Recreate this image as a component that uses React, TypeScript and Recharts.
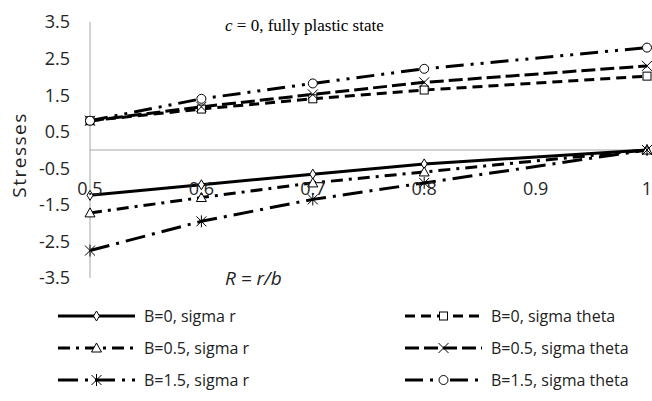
import React from "react";
import {
  LineChart,
  Line,
  XAxis,
  YAxis,
  ReferenceLine,
} from "recharts";

// radius ratio R = r/b
const xValues = [0.5, 0.6, 0.7, 0.8, 1];
const xTicks = [0.5, 0.6, 0.7, 0.8, 0.9, 1];
const yTicks = [3.5, 2.5, 1.5, 0.5, -0.5, -1.5, -2.5, -3.5];

const b0SigmaR = [-1.24, -0.95, -0.66, -0.38, 0];
const b0SigmaTheta = [0.8, 1.12, 1.4, 1.64, 2.02];
const b05SigmaR = [-1.72, -1.3, -0.9, -0.6, 0];
const b05SigmaTheta = [0.8, 1.18, 1.52, 1.85, 2.3];
const b15SigmaR = [-2.75, -1.95, -1.35, -0.9, 0];
const b15SigmaTheta = [0.8, 1.4, 1.82, 2.22, 2.8];

const seriesNames = [
  "B=0, sigma r",
  "B=0, sigma theta",
  "B=0.5, sigma r",
  "B=0.5, sigma theta",
  "B=1.5, sigma r",
  "B=1.5, sigma theta",
];

const chartData = xValues.map((r, i) => ({
  r,
  b0r: b0SigmaR[i],
  b0t: b0SigmaTheta[i],
  b05r: b05SigmaR[i],
  b05t: b05SigmaTheta[i],
  b15r: b15SigmaR[i],
  b15t: b15SigmaTheta[i],
}));

type MarkerKind = "diamond" | "square" | "triangle" | "x" | "star" | "circle";

function Marker({ kind, cx, cy }: { kind: MarkerKind; cx: number; cy: number }) {
  const st = { fill: "#fff", stroke: "#000", strokeWidth: 1 };
  switch (kind) {
    case "diamond":
      return <path d={`M${cx},${cy - 5}L${cx + 3},${cy}L${cx},${cy + 5}L${cx - 3},${cy}Z`} {...st} />;
    case "square":
      return <rect x={cx - 4} y={cy - 4} width={8} height={8} {...st} />;
    case "triangle":
      return <path d={`M${cx},${cy - 5}L${cx + 5},${cy + 4}L${cx - 5},${cy + 4}Z`} {...st} />;
    case "x":
      return (
        <path d={`M${cx - 5},${cy - 5}L${cx + 5},${cy + 5}M${cx + 5},${cy - 5}L${cx - 5},${cy + 5}`} stroke="#000" strokeWidth={1} />
      );
    case "star":
      return (
        <path
          d={`M${cx - 5},${cy - 5}L${cx + 5},${cy + 5}M${cx + 5},${cy - 5}L${cx - 5},${cy + 5}M${cx},${cy - 6}L${cx},${cy + 6}`}
          stroke="#000"
          strokeWidth={1}
        />
      );
    default:
      return <circle cx={cx} cy={cy} r={4.5} {...st} />;
  }
}

const series: { key: string; dash?: string; marker: MarkerKind }[] = [
  { key: "b0r", marker: "diamond" },
  { key: "b0t", dash: "10 6", marker: "square" },
  { key: "b05r", dash: "12 6 3 6", marker: "triangle" },
  { key: "b05t", dash: "14 5", marker: "x" },
  { key: "b15r", dash: "20 7 3 7", marker: "star" },
  { key: "b15t", dash: "18 7 3 7 3 7", marker: "circle" },
];

function XTick({ x, payload }: any) {
  // Excel puts these labels under the zero line, well inside the plot
  return (
    <text x={x} y={195} textAnchor="middle" fontSize={18} fill="#262626" fontFamily="Open Sans">
      {payload.value}
    </text>
  );
}

function Overlay() {
  const rows = [316, 348, 380];
  return (
    <svg width={652} height={401} style={{ position: "absolute", left: 0, top: 0, pointerEvents: "none" }}>
      <text x={225} y={31} fontFamily="Liberation Serif" fontSize={17} fill="#000">
        <tspan fontStyle="italic">c</tspan> = 0, fully plastic state
      </text>
      <text x={225} y={285} fontFamily="Open Sans" fontStyle="italic" fontSize={19} fill="#222">
        R = r/b
      </text>
      <text
        transform="translate(19,155) rotate(-90)"
        textAnchor="middle"
        dominantBaseline="central"
        fontFamily="Open Sans"
        fontSize={19}
        letterSpacing={1.5}
        fill="#222"
      >
        Stresses
      </text>
      {series.map((s, i) => {
        const col = i % 2;
        const y = rows[Math.floor(i / 2)];
        const x0 = col === 0 ? 58 : 405;
        const x1 = x0 + 77;
        return (
          <g key={s.key}>
            <line x1={x0} x2={x1} y1={y} y2={y} stroke="#000" strokeWidth={3} strokeDasharray={s.dash} />
            <Marker kind={s.marker} cx={(x0 + x1) / 2} cy={y} />
            <text x={x1 + 9} y={y} dominantBaseline="central" fontFamily="Open Sans" fontSize={16} fill="#222">
              {seriesNames[i]}
            </text>
          </g>
        );
      })}
    </svg>
  );
}

export default function App() {
  return (
    <div style={{ position: "absolute", left: 0, top: 0, width: 652, height: 401, background: "#fff" }}>
      <LineChart width={652} height={401} data={chartData} margin={{ top: 22, right: 5, bottom: 93, left: 40 }}>
        <XAxis
          dataKey="r"
          type="number"
          domain={[0.5, 1]}
          ticks={xTicks}
          axisLine={false}
          tickLine={false}
          tick={<XTick />}
          height={30}
        />
        <YAxis
          type="number"
          domain={[-3.5, 3.5]}
          ticks={yTicks}
          width={50}
          axisLine={{ stroke: "#a6a6a6" }}
          tickLine={false}
          tickMargin={14}
          tick={{ fontSize: 18, fill: "#262626", fontFamily: "Open Sans" }}
        />
        <ReferenceLine y={0} stroke="#a6a6a6" strokeWidth={1} />
        {series.map((s) => (
          <Line
            key={s.key}
            dataKey={s.key}
            type="linear"
            stroke="#000"
            strokeWidth={3}
            strokeDasharray={s.dash}
            isAnimationActive={false}
            dot={(p: any) => <Marker key={`${s.key}-${p.index}`} kind={s.marker} cx={p.cx} cy={p.cy} />}
            activeDot={false}
          />
        ))}
      </LineChart>
      <Overlay />
    </div>
  );
}
